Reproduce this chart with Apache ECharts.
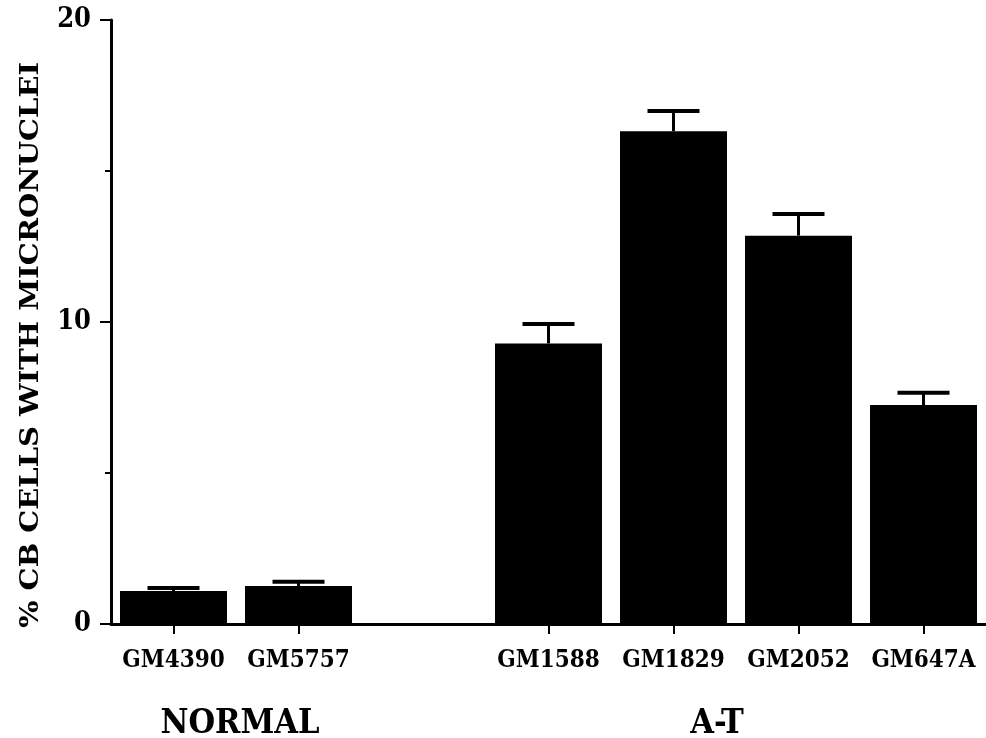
<!DOCTYPE html>
<html>
<head>
<meta charset="utf-8">
<script src="https://cdn.jsdelivr.net/npm/echarts@6/dist/echarts.min.js"></script>
<style>
html,body{margin:0;padding:0;background:#fff;}
#main{width:986px;height:738px;}
</style>
</head>
<body>
<div id="main"></div>
<script>
// ---- data ----
var categories = ['GM4390', 'GM5757', '', 'GM1588', 'GM1829', 'GM2052', 'GM647A'];
var means = [1.09, 1.26, null, 9.29, 16.32, 12.86, 7.25];
var errors = [0.10, 0.14, null, 0.64, 0.67, 0.72, 0.41];
var yTicks = [0, 10, 20];
var groupLabels = ['NORMAL', 'A-T'];
var yTitle = '% CB CELLS WITH MICRONUCLEI';

var FAM = '"DejaVu Serif Condensed", "DejaVu Serif", serif';

var chart = echarts.init(document.getElementById('main'), null, {renderer: 'canvas'});

// measure y-title so it can be stretched to match the reference length
var ctx = document.createElement('canvas').getContext('2d');
ctx.font = 'bold 26px ' + FAM;
var titleW = ctx.measureText(yTitle).width;
var titleScale = 566 / titleW;

var errData = [];
for (var i = 0; i < categories.length; i++) {
  if (means[i] != null) errData.push([i, means[i], errors[i]]);
}

var option = {
  backgroundColor: '#ffffff',
  animation: false,
  grid: {left: 111, top: 20, width: 882, height: 604, containLabel: false},
  xAxis: {
    type: 'category',
    data: categories,
    axisLine: {show: true, lineStyle: {color: '#000', width: 3}},
    axisTick: {
      show: true, alignWithLabel: true, length: 10,
      lineStyle: {color: '#000', width: 2},
      interval: function (idx, val) { return val !== ''; }
    },
    axisLabel: {
      color: '#000', fontFamily: FAM, fontWeight: 'bold', fontSize: 24, margin: 25,
      interval: 0
    },
    splitLine: {show: false}
  },
  yAxis: {
    type: 'value',
    min: yTicks[0], max: yTicks[yTicks.length - 1], interval: 10,
    axisLine: {show: true, lineStyle: {color: '#000', width: 3}},
    axisTick: {show: true, length: 11, lineStyle: {color: '#000', width: 2}},
    minorTick: {show: true, splitNumber: 2, length: 6, lineStyle: {color: '#000', width: 2}},
    axisLabel: {color: '#000', fontFamily: FAM, fontWeight: 'bold', fontSize: 27, margin: 20, padding: [12, 0, 0, 0]},
    splitLine: {show: false}
  },
  graphic: [
    {
      type: 'text', x: 31, y: 345, rotation: Math.PI / 2, scaleX: titleScale,
      style: {text: yTitle, font: 'bold 26px ' + FAM, fill: '#000', textAlign: 'center', textVerticalAlign: 'middle'}
    },
    {
      type: 'text', x: 240, y: 724,
      style: {text: groupLabels[0], font: 'bold 34px ' + FAM, fill: '#000', textAlign: 'center', textVerticalAlign: 'middle'}
    },
    {
      type: 'text', x: 717, y: 724,
      style: {text: groupLabels[1], font: 'bold 34px ' + FAM, fill: '#000', textAlign: 'center', textVerticalAlign: 'middle'}
    }
  ],
  series: [
    {
      type: 'bar',
      data: means,
      barWidth: 107,
      itemStyle: {color: '#000'},
      z: 2
    },
    {
      type: 'custom',
      data: errData,
      z: 3,
      renderItem: function (params, api) {
        var x = api.value(0), m = api.value(1), e = api.value(2);
        var p0 = api.coord([x, m]);
        var p1 = api.coord([x, m + e]);
        var half = 26;
        return {
          type: 'group',
          children: [
            {type: 'line', shape: {x1: p0[0], y1: p0[1], x2: p1[0], y2: p1[1]}, style: {stroke: '#000', lineWidth: 3}},
            {type: 'line', shape: {x1: p1[0] - half, y1: p1[1], x2: p1[0] + half, y2: p1[1]}, style: {stroke: '#000', lineWidth: 4}}
          ]
        };
      }
    }
  ]
};
chart.setOption(option);
</script>
</body>
</html>
